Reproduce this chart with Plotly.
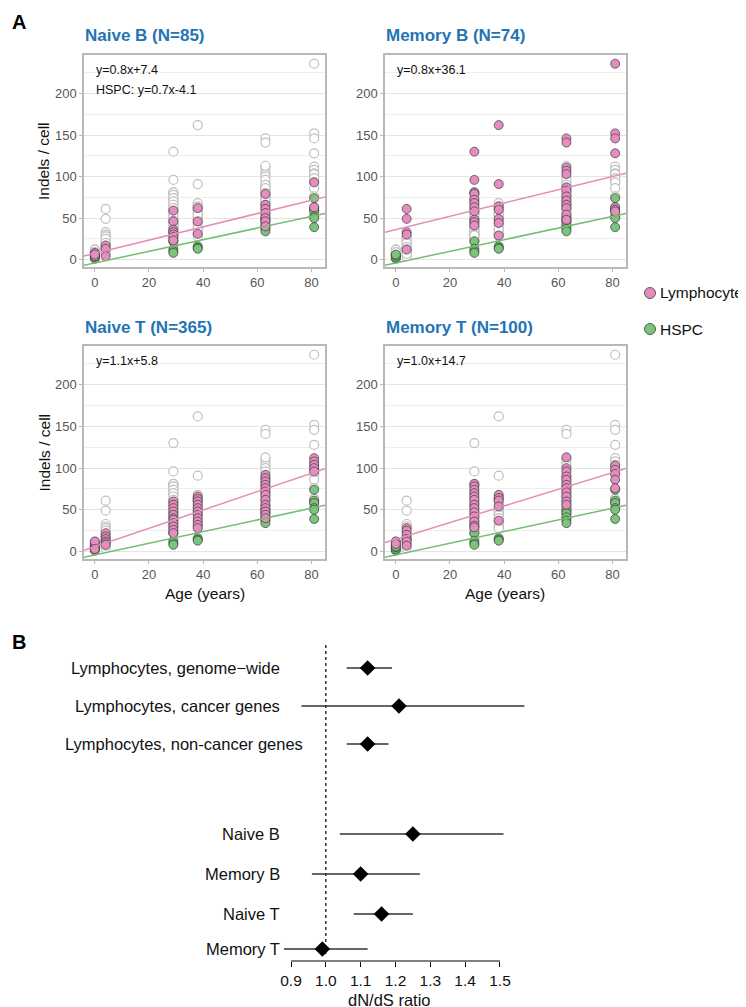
import plotly.graph_objects as go

W, H = 746, 1007

# ---------------- Panel A data ----------------
AGES = [0, 4, 29, 38, 63, 81]

naive_b = [[8, 4, 6], [17, 13, 4], [59, 46, 36, 33, 30, 27, 23], [62, 46, 31],
           [79, 66, 61, 56, 50, 46, 40], [93, 63]]
memory_b = [[], [61, 49, 33, 30, 12], [130, 96, 81, 79, 72, 68, 63, 58, 48, 45, 41],
            [162, 91, 64, 60, 49, 44, 29],
            [146, 141, 111, 107, 103, 87, 83, 76, 71, 66, 62, 54, 48],
            [236, 152, 146, 128, 63, 60, 58]]
naive_t = [[4, 6, 8, 10, 12, 3], [22, 18, 15, 12, 10, 8],
           [60, 56, 52, 48, 44, 40, 38, 34, 30, 26, 22],
           [66, 63, 60, 56, 52, 48, 44, 40, 36, 32, 28],
           [92, 88, 84, 80, 76, 72, 68, 62, 56, 52, 48, 44, 40],
           [112, 108, 104, 100, 96]]
memory_t = [[12, 9], [28, 25, 20, 15, 12, 7],
            [81, 78, 74, 70, 66, 62, 56, 52, 47, 42, 36, 31, 29],
            [68, 64, 61, 54, 37],
            [113, 100, 96, 90, 86, 80, 76, 71, 66, 60, 56],
            [103, 98, 93, 86, 76]]
hspc = [[1, 3, 5, 6], [], [22, 13, 10, 8], [16, 14, 13], [50, 46, 41, 37, 34],
        [74, 61, 58, 52, 50, 39]]

cell_types = ["Naive B", "Memory B", "Naive T", "Memory T"]
cell_n = [85, 74, 365, 100]
cell_data = [naive_b, memory_b, naive_t, memory_t]
slopes = [0.8, 0.8, 1.1, 1.0]
intercepts = [7.4, 36.1, 5.8, 14.7]
hspc_slope, hspc_intercept = 0.7, -4.1

# ---------------- Panel B data ----------------
dnds_labels = ["Lymphocytes, genome\u2212wide", "Lymphocytes, cancer genes",
               "Lymphocytes, non-cancer genes", "Naive B", "Memory B", "Naive T", "Memory T"]
dnds_est = [1.12, 1.21, 1.12, 1.25, 1.10, 1.16, 0.99]
dnds_lo = [1.06, 0.93, 1.06, 1.04, 0.96, 1.08, 0.88]
dnds_hi = [1.19, 1.57, 1.18, 1.51, 1.27, 1.25, 1.12]
dnds_ticks = [0.9, 1.0, 1.1, 1.2, 1.3, 1.4, 1.5]

PINK = "#E58DBE"
GREEN = "#7CC47B"
PINK_LINE = "#E38DBD"
GREEN_LINE = "#74BE70"
BLUE = "#2374B5"
FONT = "Liberation Sans"


def expand(groups):
    xs, ys = [], []
    for a, vals in zip(AGES, groups):
        for v in vals:
            xs.append(a)
            ys.append(v)
    return xs, ys


def px(x):
    return x / W


def py(y):
    return 1 - y / H


fig = go.Figure()

# panel boxes (pixels): left, right, top, bottom
boxes = [(76, 317, 47, 259), (377, 618, 47, 259), (76, 317, 338, 551), (377, 618, 338, 551)]
XR = [-4, 85]
YR = [-9, 246.5]

annotations = []
for i, (name, n, data, m, b) in enumerate(zip(cell_types, cell_n, cell_data, slopes, intercepts)):
    k = i + 1
    xa = "x" if k == 1 else f"x{k}"
    ya = "y" if k == 1 else f"y{k}"
    others = [cell_data[j] for j in range(4) if j != i]
    gx, gy = [], []
    for o in others:
        ox, oy = expand(o)
        gx += ox
        gy += oy
    fig.add_trace(go.Scatter(x=gx, y=gy, mode="markers", xaxis=xa, yaxis=ya, showlegend=False,
                             marker=dict(size=9, color="white", line=dict(color="#C0C0C0", width=1.2)),
                             hoverinfo="skip"))
    hx, hy = expand(hspc)
    fig.add_trace(go.Scatter(x=hx, y=hy, mode="markers", xaxis=xa, yaxis=ya, showlegend=False,
                             marker=dict(size=9, color=GREEN, line=dict(color="#3A3A3A", width=0.7))))
    cx, cy = expand(data)
    fig.add_trace(go.Scatter(x=cx, y=cy, mode="markers", xaxis=xa, yaxis=ya, showlegend=False,
                             marker=dict(size=9, color=PINK, line=dict(color="#3A3A3A", width=0.7))))
    fig.add_trace(go.Scatter(x=XR, y=[hspc_slope * x + hspc_intercept for x in XR], mode="lines",
                             xaxis=xa, yaxis=ya, showlegend=False,
                             line=dict(color=GREEN_LINE, width=1.5)))
    fig.add_trace(go.Scatter(x=XR, y=[m * x + b for x in XR], mode="lines",
                             xaxis=xa, yaxis=ya, showlegend=False,
                             line=dict(color=PINK_LINE, width=1.5)))

    l, r, t, btm = boxes[i]
    axis_common = dict(showline=True, mirror=True, linecolor="#B8B8B8", linewidth=1.5,
                       ticks="outside", ticklen=3, tickcolor="#B8B8B8",
                       tickfont=dict(family=FONT, size=13, color="#555555"), zeroline=False)
    fig.update_layout(**{
        ("xaxis" if k == 1 else f"xaxis{k}"): dict(domain=[px(l), px(r)], range=XR,
                                                   tickvals=[0, 20, 40, 60, 80], showgrid=False,
                                                   anchor=ya, **axis_common),
        ("yaxis" if k == 1 else f"yaxis{k}"): dict(domain=[py(btm), py(t)], range=YR,
                                                   tick0=0, dtick=50, showgrid=True, gridcolor="#E4E4E4",
                                                   gridwidth=1,
                                                   minor=dict(tick0=0, dtick=25, showgrid=True,
                                                              gridcolor="#EEEEEE", ticks=""),
                                                   anchor=xa, **axis_common),
    })
    annotations.append(dict(text=f"<b>{name} (N={n})</b>", xref="paper", yref="paper",
                            x=px(l - 1), y=py(t - 19), xanchor="left", yanchor="middle", showarrow=False,
                            font=dict(family=FONT, size=17, color=BLUE)))
    annotations.append(dict(text=f"y={m:.1f}x+{b:.1f}", xref="paper", yref="paper",
                            x=px(l + 10), y=py(t + 15), xanchor="left", yanchor="middle",
                            showarrow=False, font=dict(family=FONT, size=12.5, color="#111111")))
    if k == 1:
        annotations.append(dict(text=f"HSPC: y={hspc_slope:.1f}x{hspc_intercept:.1f}", xref="paper",
                                yref="paper", x=px(l + 10), y=py(t + 35), xanchor="left",
                                yanchor="middle", showarrow=False,
                                font=dict(family=FONT, size=12.5, color="#111111")))
    if k in (1, 3):
        annotations.append(dict(text="Indels / cell", xref="paper", yref="paper", x=px(36),
                                y=py((t + btm) / 2), textangle=-90, showarrow=False,
                                xanchor="center", yanchor="middle",
                                font=dict(family=FONT, size=15.5, color="#111111")))
    if k in (3, 4):
        annotations.append(dict(text="Age (years)", xref="paper", yref="paper", x=px((l + r) / 2),
                                y=py(585), showarrow=False, xanchor="center", yanchor="middle",
                                font=dict(family=FONT, size=15.5, color="#111111")))

# legend (manual)
legend_items = [("Lymphocyte", PINK, 285), ("HSPC", GREEN, 321)]
shapes = []
for lab, col, yy in legend_items:
    shapes.append(dict(type="circle", xref="paper", yref="paper",
                       x0=px(636.5), x1=px(647.5), y0=py(yy + 5.5), y1=py(yy - 5.5),
                       fillcolor=col, line=dict(color="#3A3A3A", width=0.8)))
    annotations.append(dict(text=lab, xref="paper", yref="paper", x=px(650), y=py(yy),
                            xanchor="left", yanchor="middle", showarrow=False,
                            font=dict(family=FONT, size=15.5, color="#111111")))

# panel letters
annotations.append(dict(text="<b>A</b>", xref="paper", yref="paper", x=px(2), y=py(14),
                        xanchor="left", yanchor="middle", showarrow=False,
                        font=dict(family=FONT, size=20, color="black")))
annotations.append(dict(text="<b>B</b>", xref="paper", yref="paper", x=px(2), y=py(634),
                        xanchor="left", yanchor="middle", showarrow=False,
                        font=dict(family=FONT, size=20, color="black")))

# ---------------- Panel B ----------------
row_px = [660, 698, 736, 826, 866, 906, 941]
PXU = 38.0
row_pos = [(p - 660) / PXU for p in row_px]
top_px, bot_px = 637, 953
X0PX, XPU = 283.0, 348.3   # pixel of 0.9 and pixels per unit
XLO, XHI = 0.85, 1.6
fig.add_trace(go.Scatter(
    x=dnds_est, y=row_pos, mode="markers", xaxis="x5", yaxis="y5", showlegend=False,
    marker=dict(symbol="diamond", size=12, color="black"),
    error_x=dict(type="data", symmetric=False,
                 array=[h - e for h, e in zip(dnds_hi, dnds_est)],
                 arrayminus=[e - lo for e, lo in zip(dnds_est, dnds_lo)],
                 thickness=1.3, width=0, color="#333333")))

fig.update_layout(
    xaxis5=dict(domain=[px(X0PX + (XLO - 0.9) * XPU), px(X0PX + (XHI - 0.9) * XPU)],
                range=[XLO, XHI], anchor="y5",
                tickvals=dnds_ticks, ticktext=[f"{t:.1f}" for t in dnds_ticks],
                ticks="outside", ticklen=5, tickwidth=1.2, tickcolor="black",
                showline=False, showgrid=False, zeroline=False,
                tickfont=dict(family=FONT, size=15.5, color="#111111")),
    yaxis5=dict(domain=[py(bot_px), py(top_px)],
                range=[(bot_px - 660) / PXU, (top_px - 660) / PXU], anchor="x5",
                visible=False, showgrid=False, zeroline=False),
)
shapes.append(dict(type="line", xref="x5", yref="paper", x0=0.9, x1=1.5, y0=py(bot_px), y1=py(bot_px),
                   line=dict(color="black", width=1.2)))
shapes.append(dict(type="line", xref="x5", yref="paper", x0=1.0, x1=1.0, y0=py(top_px), y1=py(948),
                   line=dict(color="black", width=1.2, dash="dot"), layer="below"))

label_right = [274, 274, 297, 274, 274, 274, 274]
for lab, rp, xr in zip(dnds_labels, row_pos, label_right):
    annotations.append(dict(text=lab, xref="paper", yref="y5", x=px(xr), y=rp,
                            xanchor="right", yanchor="middle", showarrow=False,
                            font=dict(family=FONT, size=16.5, color="#111111")))
annotations.append(dict(text="dN/dS ratio", xref="paper", yref="paper", x=px(381), y=py(992),
                        xanchor="center", yanchor="middle", showarrow=False, borderpad=0,
                        font=dict(family=FONT, size=16.5, color="#111111")))

fig.update_layout(width=W, height=H, margin=dict(l=0, r=0, t=0, b=0),
                  paper_bgcolor="white", plot_bgcolor="white",
                  annotations=annotations, shapes=shapes, showlegend=False,
                  font=dict(family=FONT))

fig.write_html("out.html")
